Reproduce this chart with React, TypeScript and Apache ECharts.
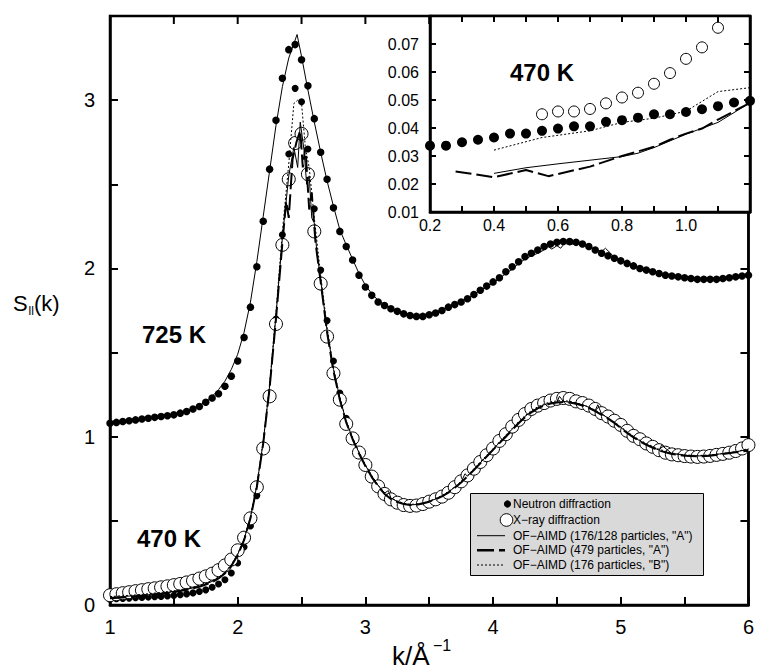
import React, { useEffect, useRef } from 'react';
import * as echarts from 'echarts';

const FONT = '"Liberation Sans", Arial, Helvetica, sans-serif';

// k grid (Å^-1) of the diffraction data
const K_GRID = [
  1.00, 1.05, 1.10, 1.15, 1.20, 1.25, 1.30, 1.35, 1.40, 1.45, 1.50, 1.55, 1.60, 1.65, 1.70, 1.75, 1.80, 1.85, 1.90, 1.95,
  2.00, 2.05, 2.10, 2.15, 2.20, 2.25, 2.30, 2.35, 2.40, 2.45, 2.50, 2.55, 2.60, 2.65, 2.70, 2.75, 2.80, 2.85, 2.90, 2.95,
  3.00, 3.05, 3.10, 3.15, 3.20, 3.25, 3.30, 3.35, 3.40, 3.45, 3.50, 3.55, 3.60, 3.65, 3.70, 3.75, 3.80, 3.85, 3.90, 3.95,
  4.00, 4.05, 4.10, 4.15, 4.20, 4.25, 4.30, 4.35, 4.40, 4.45, 4.50, 4.55, 4.60, 4.65, 4.70, 4.75, 4.80, 4.85, 4.90, 4.95,
  5.00, 5.05, 5.10, 5.15, 5.20, 5.25, 5.30, 5.35, 5.40, 5.45, 5.50, 5.55, 5.60, 5.65, 5.70, 5.75, 5.80, 5.85, 5.90, 5.95,
  6.00,
];

// Neutron diffraction, 725 K (shifted curve)
const NEUTRON_725 = [
  1.08, 1.085, 1.09, 1.095, 1.10, 1.105, 1.11, 1.115, 1.12, 1.125, 1.13, 1.14, 1.15, 1.165, 1.18, 1.205, 1.23, 1.255, 1.30, 1.36,
  1.45, 1.59, 1.77, 2.01, 2.28, 2.59, 2.88, 3.13, 3.30, 3.33, 3.24, 3.085, 2.89, 2.69, 2.53, 2.36, 2.22, 2.13, 2.05, 1.96,
  1.89, 1.84, 1.80, 1.78, 1.76, 1.745, 1.73, 1.72, 1.715, 1.715, 1.725, 1.735, 1.75, 1.77, 1.785, 1.80, 1.82, 1.845, 1.87, 1.895,
  1.92, 1.945, 1.98, 2.01, 2.04, 2.07, 2.09, 2.11, 2.13, 2.145, 2.155, 2.16, 2.16, 2.155, 2.145, 2.13, 2.11, 2.09, 2.075, 2.06,
  2.045, 2.03, 2.015, 2.00, 1.99, 1.98, 1.97, 1.96, 1.955, 1.95, 1.945, 1.94, 1.935, 1.935, 1.935, 1.935, 1.94, 1.945, 1.95, 1.955,
  1.96,
];

// X-ray diffraction, 470 K
const XRAY_470 = [
  0.058, 0.064, 0.070, 0.076, 0.082, 0.088, 0.094, 0.099, 0.105, 0.111, 0.118, 0.125, 0.134, 0.144, 0.157, 0.170, 0.186, 0.207, 0.235, 0.27,
  0.325, 0.40, 0.515, 0.70, 0.93, 1.24, 1.67, 2.14, 2.53, 2.745, 2.80, 2.56, 2.22, 1.91, 1.595, 1.377, 1.22, 1.076, 0.99, 0.906,
  0.832, 0.763, 0.705, 0.66, 0.628, 0.608, 0.594, 0.589, 0.591, 0.60, 0.614, 0.628, 0.644, 0.667, 0.70, 0.735, 0.77, 0.81, 0.85, 0.89,
  0.93, 0.975, 1.015, 1.06, 1.10, 1.135, 1.165, 1.185, 1.20, 1.215, 1.225, 1.23, 1.225, 1.21, 1.20, 1.185, 1.165, 1.14, 1.12, 1.095,
  1.07, 1.035, 1.005, 0.985, 0.96, 0.94, 0.92, 0.905, 0.895, 0.89, 0.885, 0.882, 0.88, 0.882, 0.886, 0.892, 0.898, 0.905, 0.915, 0.93,
  0.95,
];

// Neutron diffraction, 470 K
const NEUTRON_470 = [
  0.035, 0.037, 0.039, 0.041, 0.043, 0.045, 0.047, 0.049, 0.051, 0.054, 0.057, 0.061, 0.066, 0.072, 0.08, 0.09, 0.105, 0.125, 0.15, 0.19,
  0.25, 0.345, 0.47, 0.65, 0.92, 1.26, 1.70, 2.20, 2.68, 3.07, 2.99, 2.71, 2.355, 1.99, 1.69, 1.45, 1.26, 1.11, 1.005, 0.915,
  0.84, 0.77, 0.71, 0.665, 0.632, 0.612, 0.60, 0.595, 0.597, 0.605, 0.616, 0.63, 0.648, 0.672, 0.70, 0.733, 0.768, 0.805, 0.845, 0.885,
  0.925, 0.965, 1.005, 1.045, 1.085, 1.12, 1.15, 1.175, 1.19, 1.205, 1.212, 1.215, 1.21, 1.20, 1.19, 1.175, 1.155, 1.13, 1.11, 1.085,
  1.06, 1.03, 1.0, 0.978, 0.955, 0.935, 0.918, 0.905, 0.895, 0.89, 0.886, 0.884, 0.883, 0.884, 0.887, 0.892, 0.898, 0.904, 0.912, 0.925,
  0.94,
];

// OF-AIMD 725 K (176/128 particles, "A")
const SIM_725_A = [
  [1.0, 1.09], [1.1, 1.095], [1.2, 1.103], [1.3, 1.112], [1.4, 1.122], [1.5, 1.135], [1.6, 1.155], [1.7, 1.185], [1.75, 1.21],
  [1.8, 1.24], [1.85, 1.28], [1.9, 1.33], [1.95, 1.4], [2.0, 1.49], [2.05, 1.62], [2.1, 1.8], [2.15, 2.04], [2.2, 2.31],
  [2.25, 2.58], [2.3, 2.85], [2.35, 3.08], [2.4, 3.25], [2.465, 3.39], [2.5, 3.26], [2.55, 3.06], [2.6, 2.87], [2.65, 2.69],
  [2.7, 2.52], [2.75, 2.37], [2.8, 2.23], [2.85, 2.14], [2.9, 2.055], [2.95, 1.97], [3.0, 1.9], [3.05, 1.85], [3.1, 1.81],
  [3.15, 1.785], [3.2, 1.765], [3.25, 1.745], [3.3, 1.735], [3.35, 1.725], [3.4, 1.72], [3.45, 1.725], [3.5, 1.73],
  [3.55, 1.74], [3.6, 1.755], [3.65, 1.77], [3.7, 1.79], [3.75, 1.805], [3.8, 1.825], [3.85, 1.845], [3.9, 1.87],
  [3.95, 1.89], [4.0, 1.915], [4.05, 1.94], [4.1, 1.97], [4.15, 1.995], [4.2, 2.03], [4.25, 2.055], [4.3, 2.075],
  [4.35, 2.09], [4.4, 2.11], [4.43, 2.13], [4.46, 2.115], [4.5, 2.135], [4.53, 2.12], [4.56, 2.15], [4.6, 2.14],
  [4.65, 2.15], [4.7, 2.14], [4.75, 2.13], [4.8, 2.115], [4.85, 2.1], [4.88, 2.12], [4.92, 2.09], [4.95, 2.065],
  [5.0, 2.05], [5.05, 2.035], [5.1, 2.02], [5.2, 1.995], [5.3, 1.975], [5.4, 1.96], [5.5, 1.95], [5.6, 1.94],
  [5.7, 1.94], [5.8, 1.945], [5.9, 1.955], [6.0, 1.965],
];

// OF-AIMD 470 K (176/128 particles, "A")
const SIM_470_A = [
  [1.0, 0.045], [1.1, 0.05], [1.2, 0.056], [1.3, 0.062], [1.4, 0.07], [1.5, 0.08], [1.6, 0.093], [1.7, 0.11], [1.8, 0.14],
  [1.85, 0.16], [1.9, 0.19], [1.95, 0.235], [2.0, 0.3], [2.05, 0.39], [2.1, 0.52], [2.15, 0.71], [2.2, 0.97], [2.25, 1.3],
  [2.3, 1.72], [2.35, 2.18], [2.4, 2.55], [2.44, 2.72], [2.47, 2.6], [2.49, 2.87], [2.52, 2.7], [2.54, 2.5], [2.56, 2.55],
  [2.58, 2.3], [2.6, 2.27], [2.62, 2.1], [2.65, 1.93], [2.7, 1.63], [2.75, 1.4], [2.8, 1.23], [2.85, 1.09], [2.9, 0.99],
  [2.95, 0.905], [3.0, 0.83], [3.05, 0.765], [3.1, 0.71], [3.15, 0.665], [3.18, 0.68], [3.2, 0.635], [3.25, 0.615],
  [3.3, 0.6], [3.35, 0.595], [3.4, 0.597], [3.45, 0.605], [3.5, 0.615], [3.55, 0.63], [3.6, 0.648], [3.65, 0.67],
  [3.7, 0.7], [3.75, 0.73], [3.78, 0.78], [3.8, 0.765], [3.85, 0.805], [3.9, 0.845], [3.95, 0.885], [4.0, 0.925],
  [4.05, 0.965], [4.1, 1.005], [4.15, 1.045], [4.2, 1.085], [4.25, 1.12], [4.3, 1.15], [4.35, 1.17], [4.4, 1.19],
  [4.45, 1.2], [4.5, 1.205], [4.52, 1.24], [4.55, 1.21], [4.6, 1.205], [4.65, 1.2], [4.7, 1.19], [4.75, 1.175],
  [4.8, 1.155], [4.82, 1.19], [4.85, 1.135], [4.9, 1.11], [4.95, 1.085], [5.0, 1.055], [5.05, 1.025], [5.1, 1.0],
  [5.15, 0.975], [5.2, 0.955], [5.3, 0.92], [5.32, 0.95], [5.4, 0.9], [5.5, 0.89], [5.6, 0.885], [5.7, 0.89],
  [5.8, 0.9], [5.9, 0.91], [6.0, 0.925],
];

// OF-AIMD 470 K (479 particles, "A")
const SIM_470_479 = [
  [1.0, 0.04], [1.1, 0.045], [1.2, 0.05], [1.3, 0.058], [1.4, 0.066], [1.5, 0.076], [1.6, 0.09], [1.7, 0.108], [1.8, 0.135],
  [1.85, 0.158], [1.9, 0.188], [1.95, 0.232], [2.0, 0.295], [2.05, 0.385], [2.1, 0.515], [2.15, 0.7], [2.2, 0.96],
  [2.25, 1.29], [2.3, 1.7], [2.35, 2.15], [2.38, 2.4], [2.4, 2.3], [2.43, 2.65], [2.46, 2.75], [2.49, 2.82], [2.51, 2.6],
  [2.53, 2.72], [2.56, 2.35], [2.58, 2.45], [2.61, 2.15], [2.65, 1.92], [2.7, 1.62], [2.75, 1.39], [2.8, 1.22],
  [2.85, 1.085], [2.9, 0.985], [2.95, 0.9], [3.0, 0.825], [3.05, 0.76], [3.1, 0.705], [3.15, 0.66], [3.2, 0.63],
  [3.25, 0.612], [3.3, 0.6], [3.35, 0.594], [3.4, 0.595], [3.45, 0.603], [3.5, 0.614], [3.55, 0.628], [3.6, 0.645],
  [3.65, 0.668], [3.7, 0.697], [3.75, 0.728], [3.8, 0.764], [3.85, 0.802], [3.9, 0.842], [3.95, 0.882], [4.0, 0.922],
  [4.05, 0.962], [4.1, 1.0], [4.15, 1.04], [4.2, 1.08], [4.25, 1.115], [4.3, 1.145], [4.35, 1.168], [4.4, 1.185],
  [4.45, 1.197], [4.5, 1.203], [4.55, 1.206], [4.6, 1.203], [4.65, 1.196], [4.7, 1.186], [4.75, 1.172], [4.8, 1.152],
  [4.85, 1.13], [4.9, 1.107], [4.95, 1.082], [5.0, 1.052], [5.05, 1.022], [5.1, 0.996], [5.15, 0.972], [5.2, 0.952],
  [5.3, 0.918], [5.4, 0.897], [5.5, 0.887], [5.6, 0.883], [5.7, 0.887], [5.8, 0.897], [5.9, 0.907], [6.0, 0.918],
];

// OF-AIMD 470 K (176 particles, "B")
const SIM_470_B = [
  [1.0, 0.05], [1.1, 0.055], [1.2, 0.06], [1.3, 0.067], [1.4, 0.075], [1.5, 0.085], [1.6, 0.098], [1.7, 0.116], [1.8, 0.145],
  [1.85, 0.165], [1.9, 0.195], [1.95, 0.24], [2.0, 0.305], [2.05, 0.395], [2.1, 0.525], [2.15, 0.715], [2.2, 0.975],
  [2.25, 1.31], [2.3, 1.74], [2.35, 2.22], [2.4, 2.62], [2.44, 2.98], [2.47, 3.0], [2.5, 2.98], [2.53, 2.72], [2.56, 2.6],
  [2.6, 2.3], [2.65, 1.96], [2.7, 1.65], [2.75, 1.41], [2.8, 1.235], [2.85, 1.095], [2.9, 0.995], [2.95, 0.91],
  [3.0, 0.835], [3.05, 0.77], [3.1, 0.712], [3.15, 0.668], [3.2, 0.638], [3.25, 0.618], [3.3, 0.605], [3.35, 0.598],
  [3.4, 0.6], [3.45, 0.607], [3.5, 0.618], [3.55, 0.633], [3.6, 0.651], [3.65, 0.674], [3.7, 0.703], [3.75, 0.735],
  [3.8, 0.77], [3.85, 0.81], [3.9, 0.85], [3.95, 0.89], [4.0, 0.93], [4.05, 0.97], [4.1, 1.01], [4.15, 1.05],
  [4.2, 1.09], [4.25, 1.125], [4.3, 1.155], [4.35, 1.178], [4.4, 1.195], [4.45, 1.207], [4.5, 1.213], [4.55, 1.215],
  [4.6, 1.21], [4.65, 1.202], [4.7, 1.19], [4.75, 1.177], [4.8, 1.158], [4.85, 1.137], [4.9, 1.113], [4.95, 1.088],
  [5.0, 1.06], [5.05, 1.03], [5.1, 1.003], [5.15, 0.98], [5.2, 0.96], [5.3, 0.925], [5.4, 0.903], [5.5, 0.892],
  [5.6, 0.888], [5.7, 0.892], [5.8, 0.9], [5.9, 0.91], [6.0, 0.93],
];

// Inset (470 K, low k)
const INSET_K_NEUTRON = [0.2, 0.25, 0.3, 0.35, 0.4, 0.45, 0.5, 0.55, 0.6, 0.65, 0.7, 0.75, 0.8, 0.85, 0.9, 0.95, 1.0, 1.05, 1.1, 1.15, 1.2];
const INSET_NEUTRON = [0.0337, 0.0337, 0.0349, 0.0358, 0.0366, 0.038, 0.038, 0.039, 0.0398, 0.0406, 0.0406, 0.0422, 0.0428, 0.0437, 0.0449, 0.0449, 0.0457, 0.0467, 0.0478, 0.0491, 0.0497];
const INSET_K_XRAY = [0.55, 0.6, 0.65, 0.7, 0.75, 0.8, 0.85, 0.9, 0.95, 1.0, 1.05, 1.1];
const INSET_XRAY = [0.0449, 0.0459, 0.0459, 0.0468, 0.0488, 0.0509, 0.0526, 0.0558, 0.0596, 0.0647, 0.0688, 0.0758];
const INSET_SIM_A = [[0.4, 0.0238], [0.5, 0.0258], [0.6, 0.0272], [0.7, 0.0285], [0.8, 0.0298], [0.85, 0.031], [0.9, 0.033], [1.0, 0.0378], [1.1, 0.042], [1.2, 0.049]];
const INSET_SIM_479 = [[0.28, 0.0245], [0.4, 0.0224], [0.5, 0.025], [0.57, 0.0228], [0.7, 0.0262], [0.8, 0.03], [0.9, 0.0333], [0.95, 0.0358], [1.0, 0.038], [1.05, 0.0398], [1.1, 0.043], [1.2, 0.049]];
const INSET_SIM_B = [[0.4, 0.0321], [0.55, 0.0366], [0.7, 0.039], [0.8, 0.042], [0.9, 0.0435], [1.0, 0.046], [1.1, 0.053], [1.2, 0.0544]];

// mirrored tick values on the top frame edges
const MAIN_TOP_TICKS = [1.5, 2, 2.5, 3, 3.5, 4, 4.5, 5, 5.5];
const INSET_TOP_TICKS = [0.3, 0.4, 0.5, 0.6, 0.7, 0.8, 0.9, 1.0, 1.1];

const LEGEND_LABELS = [
  'Neutron diffraction',
  'X\u2212ray diffraction',
  'OF\u2212AIMD (176/128 particles, "A")',
  'OF\u2212AIMD (479 particles, "A")',
  'OF\u2212AIMD (176 particles, "B")',
];

const pairs = (xs: number[], ys: number[]) => xs.map((x, i) => [x, ys[i]]);

const axisLineStyle = { color: '#000', width: 2.5 };
const tickStyle = { color: '#000', width: 2 };

const mainXFmt = (v: number) => (Math.abs(v - Math.round(v)) < 1e-6 ? String(Math.round(v)) : '');
const mainYFmt = (v: number) => (Math.abs(v - Math.round(v)) < 1e-6 && v < 3.4 ? String(Math.round(v)) : '');
const insetXFmt = (v: number) => {
  const t = Math.round(v * 10);
  return t % 2 === 0 && t < 12 ? (t / 10).toFixed(1) : '';
};
const insetYFmt = (v: number) => {
  const t = Math.round(v * 100);
  return t < 8 ? (t / 100).toFixed(2) : '';
};

function axis(gridIndex: number, position: string, min: number, max: number, interval: number, tickLen: number,
  label: any, z: number) {
  return {
    type: 'value', gridIndex, position, min, max, interval, z,
    axisLine: { show: true, onZero: false, lineStyle: axisLineStyle },
    axisTick: { show: true, inside: true, length: tickLen, lineStyle: tickStyle },
    axisLabel: label,
    splitLine: { show: false },
  };
}
const noLabel = { show: false };

function lineSeries(data: number[][], width: number, dash: any, xi: number, yi: number, z: number) {
  return {
    type: 'line', xAxisIndex: xi, yAxisIndex: yi, data, showSymbol: false, symbol: 'none', z, silent: true,
    lineStyle: { color: '#000', width, type: dash, opacity: 1 },
  };
}

const filled = { color: '#000', opacity: 1 };
const hollow = { color: '#fff', borderColor: '#000', borderWidth: 1, opacity: 1 };

export default function App() {
  const ref = useRef<HTMLDivElement>(null);
  useEffect(() => {
    if (!ref.current) return;
    const chart = echarts.init(ref.current, undefined, { renderer: 'svg' });
    const txt = (id: string, text: string, x: number, y: number, size: number, weight = 'normal', z = 100) => ({
      id, type: 'text', x, y, z,
      style: { text, fontSize: size, fontWeight: weight, fontFamily: FONT, fill: '#000', textVerticalAlign: 'middle', textAlign: 'left' },
    });
    const legendRows = [504, 520, 535.7, 550.3, 565];
    const mainLbl = (fmt: any, margin: number) => ({ show: true, fontSize: 20, color: '#000', fontFamily: FONT, margin, formatter: fmt });
    const insetLbl = (fmt: any, margin: number) => ({ show: true, fontSize: 16, color: '#000', fontFamily: FONT, margin, formatter: fmt });
    const option: any = {
      animation: false,
      backgroundColor: '#fff',
      grid: [
        { left: 110, top: 16, width: 640, height: 589, show: true, z: 1, borderColor: '#000', borderWidth: 2.5, backgroundColor: 'transparent' },
        { left: 430, top: 16, width: 320, height: 196, show: true, z: 6, borderColor: '#000', borderWidth: 2.5, backgroundColor: 'transparent' },
      ],
      xAxis: [
        axis(0, 'bottom', 1, 6, 0.5, 8, mainLbl(mainXFmt, 12), 1),
        axis(1, 'bottom', 0.2, 1.2, 0.1, 6, insetLbl(insetXFmt, 5), 6),
      ],
      yAxis: [
        axis(0, 'left', 0, 3.5, 0.5, 8, mainLbl(mainYFmt, 15), 1),
        axis(0, 'right', 0, 3.5, 0.5, 8, noLabel, 1),
        axis(1, 'left', 0.01, 0.08, 0.01, 6, insetLbl(insetYFmt, 11), 6),
        axis(1, 'right', 0.01, 0.08, 0.01, 6, noLabel, 6),
      ],
      series: [
        { type: 'scatter', xAxisIndex: 0, yAxisIndex: 0, data: pairs(K_GRID, NEUTRON_470), symbol: 'circle', symbolSize: 7, itemStyle: filled, z: 2, silent: true },
        { type: 'scatter', xAxisIndex: 0, yAxisIndex: 0, data: pairs(K_GRID, XRAY_470), symbol: 'circle', symbolSize: 13, itemStyle: hollow, z: 2, silent: true },
        { type: 'scatter', xAxisIndex: 0, yAxisIndex: 0, data: pairs(K_GRID, NEUTRON_725), symbol: 'circle', symbolSize: 7.5, itemStyle: filled, z: 2, silent: true },
        lineSeries(SIM_725_A, 1, 'solid', 0, 0, 3),
        lineSeries(SIM_470_A, 1, 'solid', 0, 0, 3),
        lineSeries(SIM_470_479, 2, [16, 5], 0, 0, 3),
        lineSeries(SIM_470_B, 1, [2, 2], 0, 0, 3),
        { type: 'scatter', xAxisIndex: 1, yAxisIndex: 2, data: pairs(INSET_K_NEUTRON, INSET_NEUTRON), symbol: 'circle', symbolSize: 10, itemStyle: filled, z: 5, silent: true },
        { type: 'scatter', xAxisIndex: 1, yAxisIndex: 2, data: pairs(INSET_K_XRAY, INSET_XRAY), symbol: 'circle', symbolSize: 11, itemStyle: hollow, z: 5, silent: true },
        lineSeries(INSET_SIM_A, 1, 'solid', 1, 2, 5),
        lineSeries(INSET_SIM_479, 2, [16, 5], 1, 2, 5),
        lineSeries(INSET_SIM_B, 1, [2, 2], 1, 2, 5),
      ],
      graphic: {
        elements: [
          { id: 'insetBg', type: 'rect', z: 3, shape: { x: 430, y: 16, width: 320, height: 196 }, style: { fill: '#fff' } },
          txt('t1', '470 K', 510, 72, 24, 'bold', 7),
          txt('t2', '725 K', 142, 334, 24, 'bold'),
          txt('t3', '470 K', 137, 538.5, 24, 'bold'),
          txt('t4', 'S', 13, 303, 22),
          txt('t5', 'll', 28.5, 311, 12),
          txt('t6', '(k)', 34, 303, 22),
          txt('t7', 'k/\u00c5', 392, 656, 26),
          txt('t8', '\u22121', 433, 645, 16),
          { id: 'lgBox', type: 'rect', z: 100, shape: { x: 470.5, y: 493.5, width: 233, height: 82 }, style: { fill: '#d9d9d9', stroke: '#000', lineWidth: 1 } },
          { id: 'lg1', type: 'circle', z: 101, shape: { cx: 507.5, cy: legendRows[0], r: 3.6 }, style: { fill: '#000' } },
          { id: 'lg2', type: 'circle', z: 101, shape: { cx: 506.5, cy: legendRows[1], r: 6.3 }, style: { fill: '#fff', stroke: '#000', lineWidth: 1 } },
          { id: 'lg3', type: 'line', z: 101, shape: { x1: 477, y1: legendRows[2], x2: 505, y2: legendRows[2] }, style: { stroke: '#000', lineWidth: 1 } },
          { id: 'lg4', type: 'line', z: 101, shape: { x1: 477, y1: legendRows[3], x2: 505, y2: legendRows[3] }, style: { stroke: '#000', lineWidth: 2.5, lineDash: [17, 5] } },
          { id: 'lg5', type: 'line', z: 101, shape: { x1: 477, y1: legendRows[4], x2: 505, y2: legendRows[4] }, style: { stroke: '#000', lineWidth: 1, lineDash: [2, 2] } },
          ...LEGEND_LABELS.map((t, i) => txt('lgt' + i, t, 513, legendRows[i], 12, 'normal', 101)),
        ],
      },
    };
    chart.setOption(option);

    // mirrored ticks along the top edges, positioned through the axes' own scales
    const topMain = chart.convertToPixel({ yAxisIndex: 0 } as any, 3.5) as number;
    const topInset = chart.convertToPixel({ yAxisIndex: 2 } as any, 0.08) as number;
    const tickEls: any[] = [];
    MAIN_TOP_TICKS.forEach((v, i) => {
      const x = chart.convertToPixel({ xAxisIndex: 0 } as any, v) as number;
      tickEls.push({ id: 'mt' + i, type: 'line', z: 2, shape: { x1: x, y1: topMain, x2: x, y2: topMain + 8 }, style: { stroke: '#000', lineWidth: 2 } });
    });
    INSET_TOP_TICKS.forEach((v, i) => {
      const x = chart.convertToPixel({ xAxisIndex: 1 } as any, v) as number;
      tickEls.push({ id: 'it' + i, type: 'line', z: 7, shape: { x1: x, y1: topInset, x2: x, y2: topInset + 6 }, style: { stroke: '#000', lineWidth: 2 } });
    });
    chart.setOption({ graphic: { elements: tickEls } });
    return () => chart.dispose();
  }, []);
  return <div ref={ref} style={{ position: 'fixed', left: 0, top: 0, width: 757, height: 670, background: '#fff' }} />;
}
